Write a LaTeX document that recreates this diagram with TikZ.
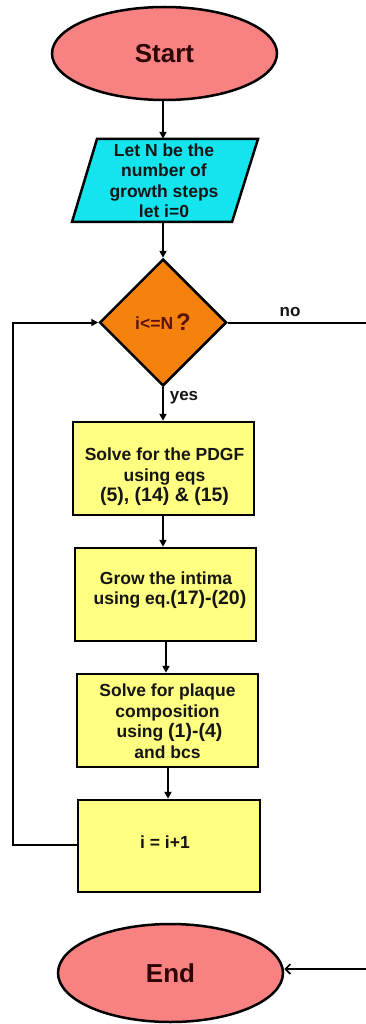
\documentclass[tikz,border=0pt]{standalone}
\usepackage{fontspec}
\setmainfont{Liberation Sans}
\usetikzlibrary{shapes.geometric,arrows.meta}
\definecolor{coral}{HTML}{F88282}
\definecolor{cyanfill}{HTML}{14E4EE}
\definecolor{orangefill}{HTML}{F5820C}
\definecolor{yellowfill}{HTML}{FFFF82}
\definecolor{maroon}{HTML}{2E0505}
\definecolor{darkred}{HTML}{5A1212}
\definecolor{ink}{HTML}{151515}
\newcommand{\bp}[1]{{\fontsize{19.5}{20.5}\selectfont #1}}
\begin{document}
\begin{tikzpicture}[x=1pt,y=-1pt,
  shapeline/.style={draw=black,line width=2.5pt},
  terminal/.style={shapeline,ellipse,fill=coral,inner sep=0pt,text=maroon,
    font=\fontsize{26}{28}\selectfont\bfseries},
  procbox/.style={shapeline,rectangle,fill=yellowfill,inner sep=0pt},
  txt/.style={align=center,text=ink,inner sep=0pt,
    font=\fontsize{17.5}{20.5}\selectfont\bfseries},
  decision/.style={shapeline,diamond,fill=orangefill,aspect=1,inner sep=0pt,
    minimum width=127pt,minimum height=127pt,text=darkred,
    font=\fontsize{17.5}{20}\selectfont\bfseries},
  flow/.style={line width=2pt,-{Triangle[length=7pt,width=7pt]}},
  plain/.style={line width=2pt},
  lbl/.style={inner sep=0pt,text=ink,font=\fontsize{17}{18}\selectfont\bfseries}
]
\useasboundingbox[fill=white] (0,0) rectangle (366,1024);

% Start
\node[terminal,minimum width=225pt,minimum height=93pt] (start) at (164.5,53.5) {Start};

% parallelogram
\draw[shapeline,fill=cyanfill] (97,139) -- (258,139) -- (232,222) -- (72,222) -- cycle;
\node[txt,minimum width=130pt,minimum height=83pt] (para) at (164,180.5)
  {Let N be the\\number of\\growth steps\\let i=0};

% decision
\node[decision] (dec) at (163,322.5) {i<=N\,\raisebox{-1pt}{\fontsize{24}{24}\selectfont ?}};

% boxes
\node[procbox,minimum width=181pt,minimum height=93pt] (b1) at (163.5,468.5) {};
\node[txt] (t1) at (164.5,477) {Solve for the PDGF\\ using eqs\\ \bp{(5), (14) \& (15)}};

\node[procbox,minimum width=181pt,minimum height=93pt] (b2) at (165.5,594.5) {};
\node[txt] (t2) at (166,590) {Grow the intima\\ \hspace*{8pt}using eq.\bp{(17)-(20)}};

\node[procbox,minimum width=181pt,minimum height=93pt] (b3) at (167.5,720.5) {};
\node[txt] (t3) at (167.5,721) {Solve for plaque\\composition\\ \hspace*{4pt}using \bp{(1)-(4)}\\and bcs};

\node[procbox,minimum width=182pt,minimum height=92pt] (b4) at (169,846) {};
\node[txt] (t4) at (165,842) {i = i+1};

% End
\node[terminal,minimum width=225pt,minimum height=98pt] (end) at (170.5,973) {End};

% connectors
\draw[flow] (start.south -| 163,0) -- (para.north -| 163,0);
\draw[flow] (para.south -| dec.north) -- (dec.north);
\draw[flow] (dec.south) -- (b1.north -| dec.south);
\draw[flow] (b1.south -| 163,0) -- (b2.north -| 163,0);
\draw[flow] (b2.south -| 166,0) -- (b3.north -| 166,0);
\draw[flow] (b3.south -| 168,0) -- (b4.north -| 168,0);

\coordinate (noend) at (366,322.5);
\draw[plain] (dec.east) -- (noend);
\node[lbl] (nolbl) at (290,312) {no};
\node[lbl] (yeslbl) at (184,398) {yes};

\coordinate (loopa) at (13,845);
\coordinate (loopb) at (13,322.5);
\draw[flow] (b4.west |- 0,845) -- (loopa) -- (loopb) -- (dec.west);

\coordinate (endin) at (366,969);
\draw[line width=1.6pt,-{Straight Barb[length=5pt,width=10pt]}] (endin) -- (end.east |- endin);
\end{tikzpicture}
\end{document}
